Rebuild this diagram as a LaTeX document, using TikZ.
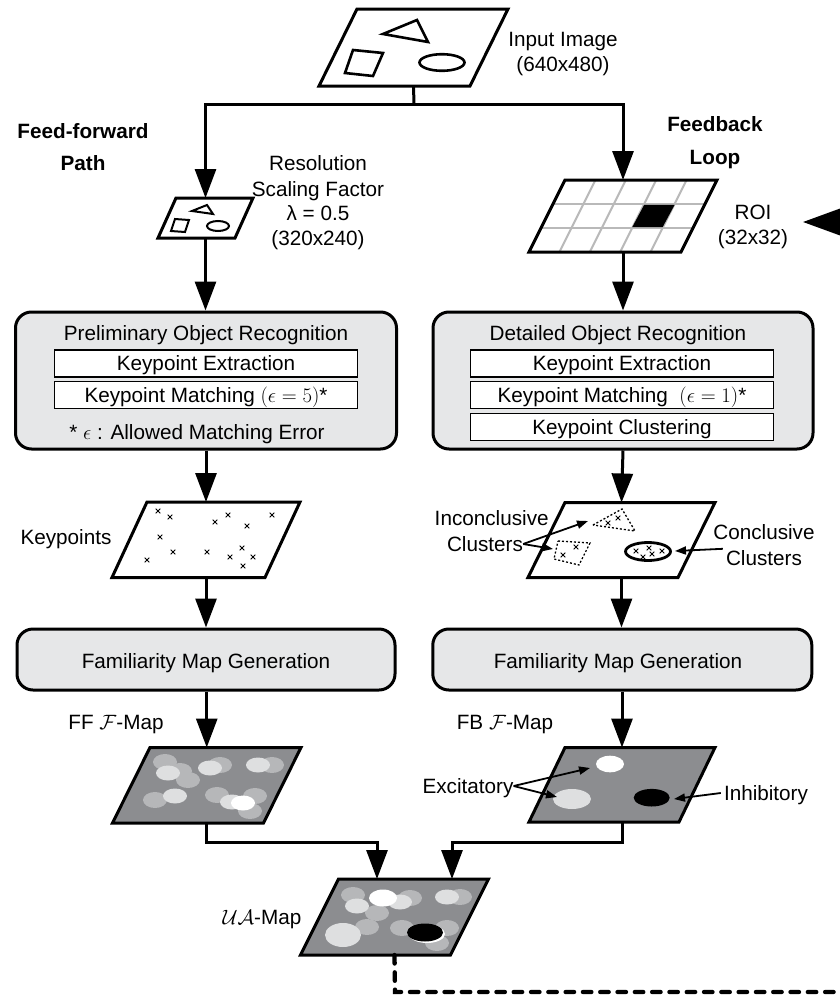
\documentclass[tikz,border=0pt]{standalone}
\usepackage[no-math]{fontspec}
\setmainfont{Liberation Sans}
\usetikzlibrary{arrows.meta}
\definecolor{boxgray}{RGB}{230,231,232}
\definecolor{mapgray}{RGB}{140,141,144}
\definecolor{blobA}{RGB}{182,183,185}
\definecolor{blobB}{RGB}{222,223,224}
\definecolor{gridgray}{RGB}{185,185,185}
\tikzset{
 conn/.style={line width=3pt, -{Triangle[width=21pt,length=29pt]}},
 plain/.style={line width=3pt},
 bigbox/.style={draw, line width=3pt, fill=boxgray, rounded corners=16pt, inner sep=0pt},
 inbox/.style={draw, line width=1.5pt, fill=white, minimum width=303pt, minimum height=27pt, inner sep=0pt},
 txt/.style={font=\fontsize{20.7}{25}\selectfont, inner sep=0pt, text height=14pt, text depth=0pt},
 btxt/.style={font=\fontsize{20.7}{25}\selectfont\bfseries, inner sep=0pt, text height=14pt, text depth=0pt},
 mapline/.style={line width=3pt, line join=miter},
 ann/.style={line width=1.8pt, -{Triangle[width=8pt,length=11pt]}},
 xs/.style={line width=0.8pt},
 dots/.style={line width=1.3pt, dash pattern=on 2pt off 2pt},
}
\newcommand\mypara[6]{%
 \coordinate (#1-tl) at (#2,#3);
 \coordinate (#1-tr) at (#2+#4,#3);
 \coordinate (#1-br) at (#2+#4-#6,#3+#5);
 \coordinate (#1-bl) at (#2-#6,#3+#5);
 \coordinate (#1-t) at (#2+#4/2-#6/2,#3);
 \coordinate (#1-b) at (#2+#4/2-#6/2,#3+#5);
}
\newcommand\paraPath[1]{(#1-tl) -- (#1-tr) -- (#1-br) -- (#1-bl) -- cycle}
\newcommand\kx[2]{\draw[xs] (#1-2.3,#2-2.3) -- (#1+2.3,#2+2.3) (#1-2.3,#2+2.3) -- (#1+2.3,#2-2.3);}
\begin{document}
\begin{tikzpicture}[x=1pt,y=-1pt]
\useasboundingbox (0,0) rectangle (840,996);

% ---------- Input image ----------
\mypara{in}{357}{9}{151}{77}{38}
\draw[mapline, fill=white] \paraPath{in};
\draw[line width=2.6pt, line join=miter] (383,34) -- (417,20) -- (428,42) -- cycle;
\draw[line width=2.6pt, line join=miter] (353,50) -- (383,53) -- (373,76) -- (345,73) -- cycle;
\draw[line width=2.6pt] (442,62.5) ellipse [x radius=22.5, y radius=8.3];
\node[txt] (inlab1) at (563,39) {Input Image};
\node[txt] (inlab2) at (563,64) {(640x480)};

% ---------- split ----------
\coordinate (split) at (414,104);
\draw[plain] (in-b) -- (split);

% ---------- small image ----------
\mypara{sm}{176}{198}{77}{40}{18}
\draw[mapline, fill=white] \paraPath{sm};
\draw[line width=2pt, line join=miter] (192,211) -- (207,205) -- (213,214) -- cycle;
\draw[line width=2pt, line join=miter] (175,219) -- (189,220) -- (185,232) -- (171,231) -- cycle;
\draw[line width=2pt] (218,226) ellipse [x radius=11, y radius=5];
\node[btxt] (ff1) at (83,131) {Feed-forward};
\node[btxt] (ff2) at (83,163) {Path};
\node[txt] (res1) at (318,163) {Resolution};
\node[txt] (res2) at (318,189) {Scaling Factor};
\node[txt] (res3) at (318,213) {λ = 0.5};
\node[txt] (res4) at (318,238) {(320x240)};

% ---------- ROI ----------
\mypara{roi}{565}{180}{152}{72}{36}
\fill[white] \paraPath{roi};
\fill[black] (644.2,204) -- (674.6,204) -- (662.6,228) -- (632.2,228) -- cycle;
\foreach \k in {1,2,3,4} {
  \draw[gridgray, line width=2pt] (565+30.4*\k,180) -- (529+30.4*\k,252);
}
\draw[gridgray, line width=2pt] (553,204) -- (705,204);
\draw[gridgray, line width=2pt] (541,228) -- (693,228);
\fill[black] (644.2,204.8) -- (674.6,204.8) -- (662.6,227.2) -- (632.2,227.2) -- cycle;
\draw[mapline] \paraPath{roi};
\node[btxt] (fb1) at (715,124) {Feedback};
\node[btxt] (fb2) at (715,157) {Loop};
\node[txt] (roi1) at (753,212) {ROI};
\node[txt] (roi2) at (753,237) {(32x32)};
\coordinate (fbin) at (900,222);
\coordinate (fbtip) at (803,222);
\draw[line width=3pt, -{Triangle[width=32pt,length=45pt]}] (fbin) -- (fbtip);

\draw[conn] (split) -| (sm-t);
\draw[conn] (split) -| (roi-t);

% ---------- recognition boxes ----------
\node[bigbox, minimum width=381pt, minimum height=137pt] (pbox) at (206,380.5) {};
\node[txt] (ptitle) at (206,333) {Preliminary Object Recognition};
\node[inbox] (pke) at (206,363.5) {};
\node[txt] at (pke.center) {Keypoint Extraction};
\node[inbox] (pkm) at (206,395) {};
\node[txt] at (pkm.center) {Keypoint Matching $(\epsilon = 5)$*};
\node[txt] (pnote) at (197,432) {* $\epsilon$ : Allowed Matching Error};

\node[bigbox, minimum width=380pt, minimum height=137pt] (dbox) at (623,380.5) {};
\node[txt] (dtitle) at (618,333) {Detailed Object Recognition};
\node[inbox] (dke) at (622,363.5) {};
\node[txt] at (dke.center) {Keypoint Extraction};
\node[inbox] (dkm) at (622,395) {};
\node[txt] at (dkm.center) {Keypoint Matching \ $(\epsilon = 1)$*};
\node[inbox] (dkc) at (622,427) {};
\node[txt] at (dkc.center) {Keypoint Clustering};

\draw[conn] (sm-b) -- (sm-b |- pbox.north);
\draw[conn] (roi-b) -- (roi-b |- dbox.north);

% ---------- keypoint maps ----------
\mypara{kl}{147}{502}{153}{75.5}{35}
\draw[mapline, fill=white] \paraPath{kl};
\kx{158}{511}\kx{170}{517}\kx{215}{522}\kx{228}{515}\kx{247}{526}\kx{272}{515}
\kx{160}{537}\kx{173}{552}\kx{147}{560}\kx{207}{552}\kx{230}{557}\kx{242}{548}
\kx{253}{557}\kx{243}{566}
\node[txt] (kplab) at (66,537) {Keypoints};

\mypara{kr}{565}{502.5}{150}{75}{37}
\draw[mapline, fill=white] \paraPath{kr};
\draw[dots] (593,525) -- (622,509) -- (635,531) -- cycle;
\kx{608}{523}\kx{618}{518}
\draw[dots] (558,541) -- (590,543) -- (579,565) -- (554,559) -- cycle;
\kx{576}{547}\kx{563}{555}
\draw[line width=2.8pt] (648,551.5) ellipse [x radius=22.5, y radius=9];
\kx{636}{551}\kx{649}{548}\kx{643}{557}\kx{652}{554}\kx{662}{551}
\node[txt] (inc1) at (491.7,518) {Inconclusive};
\node[txt] (inc2) at (485,544) {Clusters};
\node[txt] (con1) at (764,532) {Conclusive};
\node[txt] (con2) at (764,558) {Clusters};
\coordinate (tri) at (588,521);
\coordinate (quad) at (553,549);
\coordinate (ell) at (675,551);
\draw[ann] (inc2.east) -- (tri);
\draw[ann] (inc2.east) -- (quad);
\draw[ann] ([xshift=-3pt]con2.north west) ++(0,-2) -- (ell);

\draw[conn] (pbox.south) -- (kl-t);
\draw[conn] (dbox.south) -- (kr-t);

% ---------- familiarity boxes ----------
\node[bigbox, minimum width=378pt, minimum height=61pt] (faml) at (206,659.5) {};
\node[txt] at (206,661) {Familiarity Map Generation};
\node[bigbox, minimum width=379pt, minimum height=61pt] (famr) at (622.3,659.5) {};
\node[txt] at (618,661) {Familiarity Map Generation};
\draw[conn] (kl-b) -- (kl-b |- faml.north);
\draw[conn] (kr-b) -- (kr-b |- famr.north);

% ---------- FF map ----------
\mypara{ff}{150}{747.5}{151}{75.5}{37.5}
\fill[mapgray] \paraPath{ff};
\begin{scope}
\clip \paraPath{ff};
\foreach \x/\y in {165/762,188/780,220/765,272/765,155/800,217/795,255/796,250/811,180/771}
  \fill[blobA] (\x,\y) ellipse [x radius=12, y radius=8];
\foreach \x/\y in {168/773,210/768,258/765,175/796,232/802}
  \fill[blobB] (\x,\y) ellipse [x radius=12, y radius=7.5];
\fill[white] (243,803) ellipse [x radius=12, y radius=7.5];
\end{scope}
\draw[mapline] \paraPath{ff};
\node[txt] (fflab) at (116,722) {FF $\mathcal{F}$-Map};
\draw[conn] (faml.south -| ff-t) -- (ff-t);

% ---------- FB map ----------
\mypara{fb}{565}{747.5}{150}{74.5}{36}
\fill[mapgray] \paraPath{fb};
\fill[white] (610,764) ellipse [x radius=14, y radius=8.3];
\fill[blobB] (572,799) ellipse [x radius=19, y radius=10];
\fill[black] (651.7,797.7) ellipse [x radius=18, y radius=8.8];
\draw[mapline] \paraPath{fb};
\node[txt] (fblab) at (505,722) {FB $\mathcal{F}$-Map};
\node[txt] (exc) at (468,786) {Excitatory};
\node[txt] (inh) at (766,793) {Inhibitory};
\coordinate (exw) at (590,768);
\coordinate (exg) at (557,797);
\coordinate (inb) at (674,799);
\draw[ann] (exc.east) -- (exw);
\draw[ann] (exc.east) -- (exg);
\draw[ann] ([xshift=-3pt]inh.west) -- (inb);
\draw[conn] (famr.south -| fb-t) -- (fb-t);

% ---------- UA map ----------
\mypara{ua}{338.5}{879}{150}{76}{38}
\fill[mapgray] \paraPath{ua};
\begin{scope}
\clip \paraPath{ua};
\foreach \x/\y in {353/895,410/898,377/913,460/897,367/927,402/928,447/928,437/943}
  \fill[blobA] (\x,\y) ellipse [x radius=12, y radius=8];
\foreach \x/\y in {357/906,400/902,447/897}
  \fill[blobB] (\x,\y) ellipse [x radius=12, y radius=7.5];
\fill[blobB] (343,935) ellipse [x radius=18, y radius=12];
\fill[white] (383,898) ellipse [x radius=14, y radius=8.5];
\fill[white] (427,934) ellipse [x radius=18, y radius=9];
\fill[black] (425,932.5) ellipse [x radius=18, y radius=9];
\end{scope}
\draw[mapline] \paraPath{ua};
\node[txt] (ualab) at (262,917) {$\mathcal{UA}$-Map};

\coordinate (mergeL) at (377,842);
\coordinate (mergeR) at (452,842);
\coordinate (uaL) at (377,879);
\coordinate (uaR) at (452,879);
\draw[conn] (ff-b) |- (mergeL) -- (uaL);
\draw[conn] (fb-b) |- (mergeR) -- (uaR);

% ---------- dashed feedback ----------
\coordinate (fbend) at (395,992);
\coordinate (fbout) at (860,992);
\draw[line width=4.3pt, line cap=round, dash pattern=on 8.5pt off 8.8pt] (ua-b) -- (fbend) -- (fbout);
\end{tikzpicture}
\end{document}
